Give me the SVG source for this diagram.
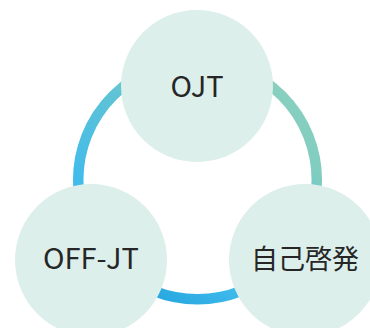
<svg xmlns="http://www.w3.org/2000/svg" width="370" height="328" viewBox="0 0 370 328">
  <defs>
    <linearGradient id="ringGrad" gradientUnits="userSpaceOnUse" x1="150" y1="300" x2="290" y2="80">
      <stop offset="0" stop-color="#25a6df"/>
      <stop offset="0.22" stop-color="#40bbec"/>
      <stop offset="0.6" stop-color="#5fc3d5"/>
      <stop offset="0.75" stop-color="#80cdc0"/>
      <stop offset="1" stop-color="#8ad0bf"/>
    </linearGradient>
  </defs>
  <style>
    .node { fill: #dcefea; }
    .label { font-family: "Noto Sans CJK JP", "Noto Sans", sans-serif; fill: #262626; text-anchor: middle; }
  </style>
  <rect width="370" height="328" fill="#ffffff"/>
  <g id="connectors">
    <circle cx="197.5" cy="180" r="119.3" fill="none" stroke="url(#ringGrad)" stroke-width="10.5"/>
  </g>
  <g id="node-ojt">
    <circle class="node" cx="197" cy="86" r="76"/>
    <text class="label" x="197" y="97" font-size="29">OJT</text>
  </g>
  <g id="node-offjt">
    <circle class="node" cx="91" cy="260" r="76"/>
    <text class="label" x="91" y="269" font-size="29">OFF-JT</text>
  </g>
  <g id="node-jikokeihatsu">
    <circle class="node" cx="305" cy="260" r="76"/>
    <text class="label" x="305" y="269" font-size="27">自己啓発</text>
  </g>
</svg>
